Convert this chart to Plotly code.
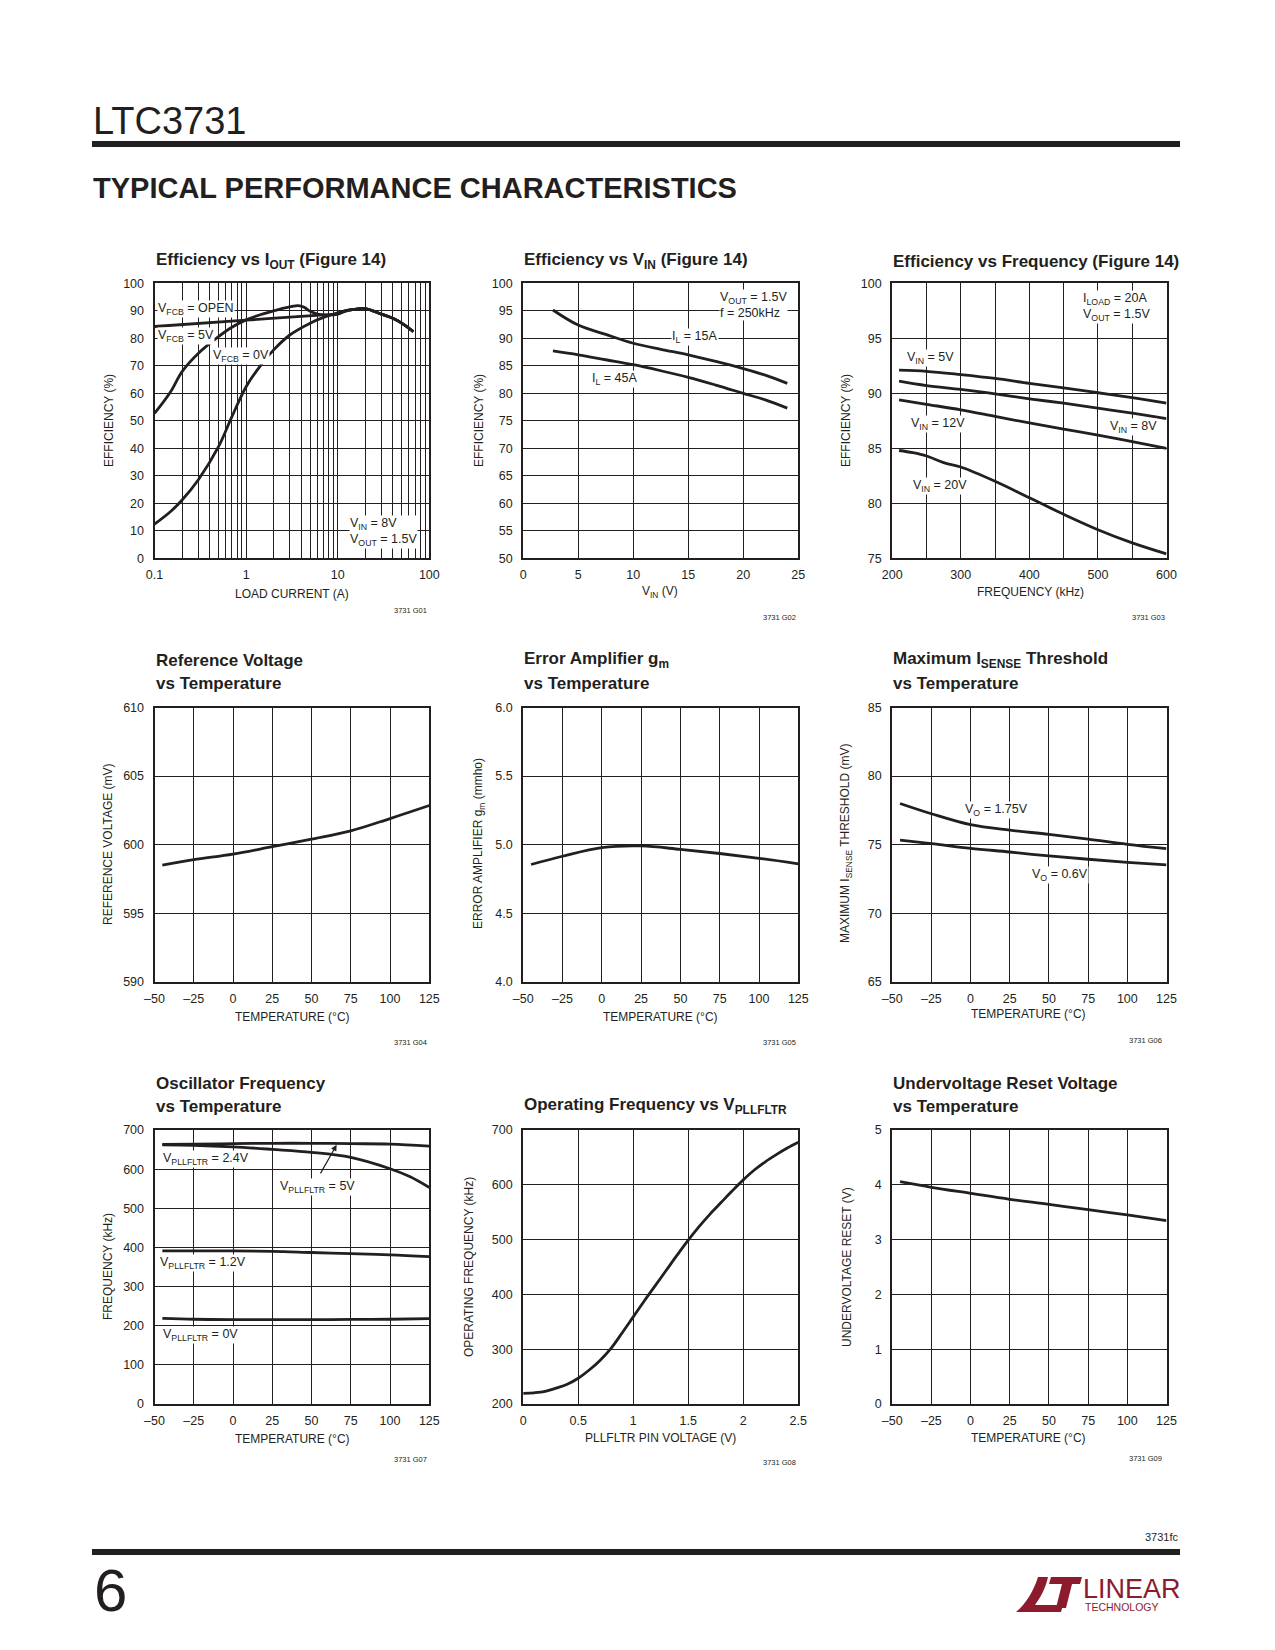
import plotly.graph_objects as go

# ---------------- DATA ----------------
# G01 Efficiency vs IOUT
g01_iout_open = [0.1, 1, 7, 10, 12, 15, 20, 30, 40, 50, 67]
g01_eff_open = [84.3, 86.6, 88.5, 88.9, 90.0, 90.5, 90.8, 88.8, 87.3, 85.5, 82.4]
g01_iout_5v = [0.1, 0.15, 0.2, 0.3, 0.5, 0.7, 1, 1.5, 2, 3, 3.7, 4.3, 5, 6, 8, 10, 12, 15, 20, 30, 40, 50, 67]
g01_eff_5v = [52.7, 60.6, 67.9, 74.5, 80.6, 84.0, 86.7, 88.8, 90.0, 91.4, 91.9, 91.3, 89.8, 88.8, 88.4, 88.8, 89.8, 90.5, 90.8, 88.8, 87.3, 85.5, 82.4]
g01_iout_0v = [0.1, 0.15, 0.2, 0.3, 0.5, 0.7, 1, 1.5, 2, 3, 5, 7, 10, 12, 15, 20, 30, 40, 50, 67]
g01_eff_0v = [12.4, 17.0, 21.2, 28.5, 40.6, 51.5, 62.4, 70.9, 75.8, 81.2, 85.5, 87.6, 89.3, 90.0, 90.5, 90.8, 88.8, 87.3, 85.5, 82.4]
g01_xticks = [0.1, 1, 10, 100]
g01_xlabels = ["0.1", "1", "10", "100"]
g01_xminor = [0.2, 0.3, 0.4, 0.5, 0.6, 0.7, 0.8, 0.9, 2, 3, 4, 5, 6, 7, 8, 9, 20, 30, 40, 50, 60, 70, 80, 90]
g01_yticks = [0, 10, 20, 30, 40, 50, 60, 70, 80, 90, 100]

# G02 Efficiency vs VIN
g02_vin = [2.7, 5, 7.5, 10, 12.5, 15, 17.5, 20, 22, 24]
g02_eff_15a = [95.15, 92.4, 90.7, 89.1, 88.0, 87.0, 85.8, 84.5, 83.3, 81.8]
g02_eff_45a = [87.7, 87.0, 86.1, 85.2, 84.1, 82.9, 81.5, 80.0, 78.8, 77.3]
g02_xticks = [0, 5, 10, 15, 20, 25]
g02_yticks = [50, 55, 60, 65, 70, 75, 80, 85, 90, 95, 100]

# G03 Efficiency vs Frequency
g03_freq = [210, 250, 300, 350, 400, 450, 500, 550, 600]
g03_eff_5v = [92.1, 92.0, 91.7, 91.35, 90.9, 90.5, 90.05, 89.6, 89.1]
g03_eff_8v = [91.1, 90.7, 90.35, 89.95, 89.5, 89.1, 88.65, 88.2, 87.7]
g03_eff_12v = [89.4, 89.0, 88.5, 87.9, 87.3, 86.75, 86.2, 85.6, 85.0]
g03_freq_20v = [210, 230, 250, 275, 300, 350, 400, 450, 500, 550, 600]
g03_eff_20v = [84.8, 84.6, 84.3, 83.7, 83.3, 82.0, 80.5, 79.0, 77.6, 76.4, 75.4]
g03_xticks = [200, 300, 400, 500, 600]
g03_xminor = [250, 350, 450, 550]
g03_yticks = [75, 80, 85, 90, 95, 100]

# shared temperature axis
temp = [-45, -25, 0, 25, 50, 75, 100, 125]
temp_ticks = [-50, -25, 0, 25, 50, 75, 100, 125]
temp_labels = ["\u201350", "\u201325", "0", "25", "50", "75", "100", "125"]

# G04 Reference voltage
g04_vref = [598.5, 598.9, 599.3, 599.85, 600.4, 601.0, 601.9, 602.85]
g04_yticks = [590, 595, 600, 605, 610]

# G05 Error amplifier gm
g05_gm = [4.855, 4.915, 4.978, 4.99, 4.965, 4.935, 4.9, 4.86]
g05_yticks = [4.0, 4.5, 5.0, 5.5, 6.0]
g05_ylabels = ["4.0", "4.5", "5.0", "5.5", "6.0"]

# G06 Max ISENSE threshold
g06_vo175 = [78.0, 77.25, 76.45, 76.05, 75.75, 75.4, 75.02, 74.7]
g06_vo06 = [75.32, 75.07, 74.73, 74.46, 74.17, 73.93, 73.71, 73.52]
g06_yticks = [65, 70, 75, 80, 85]

# G07 Oscillator frequency
g07_f_5v = [663, 664, 665, 666, 666, 665, 664, 659]
g07_temp_24 = [-45, -25, 0, 25, 50, 75, 100, 112.5, 125]
g07_f_24v = [662, 661, 657, 650.5, 643, 630, 601, 581, 553]
g07_f_12v = [391, 391, 391, 390, 387, 384, 381, 376.4]
g07_f_0v = [219, 216.5, 215.5, 215.5, 215.5, 216, 216.5, 218]
g07_yticks = [0, 100, 200, 300, 400, 500, 600, 700]

# G08 Operating frequency vs VPLLFLTR
g08_v = [0, 0.1, 0.2, 0.3, 0.4, 0.5, 0.6, 0.7, 0.8, 0.9, 1.0, 1.1, 1.2, 1.3,
         1.4, 1.5, 1.6, 1.7, 1.8, 1.9, 2.0, 2.1, 2.2, 2.3, 2.4, 2.5]
g08_f = [219.5, 220.5, 223, 229, 236, 247, 262, 280, 302, 330, 359, 388, 416, 444,
         472, 499, 524, 547, 568, 589, 609, 627, 642, 655, 667, 677.5]
g08_xticks = [0, 0.5, 1, 1.5, 2, 2.5]
g08_xlabels = ["0", "0.5", "1", "1.5", "2", "2.5"]
g08_yticks = [200, 300, 400, 500, 600, 700]

# G09 Undervoltage reset
g09_uv = [4.057, 3.954, 3.844, 3.735, 3.644, 3.545, 3.45, 3.345]
g09_yticks = [0, 1, 2, 3, 4, 5]

# ---------------- STYLE / LAYOUT ----------------
PAGE_W, PAGE_H = 1275, 1650
OFF = 8                      # default body margin of the html page
FW, FH = PAGE_W - 2 * OFF, PAGE_H - 2 * OFF
INK = "#231f20"
RED = "#8c1b2d"
FN = "Liberation Sans, Arial, Helvetica, sans-serif"
COLS = [(154.5, 429.3), (523.2, 798.3), (892.2, 1166.5)]
ROWS = [(283.3, 558.3), (707.5, 981.7), (1130.0, 1404.0)]

def X(x):
    return (x - OFF) / FW

def Y(y):
    return 1 - (y - OFF) / FH

fig = go.Figure()

def axname(i, k):
    return k if i == 1 else f"{k}{i}"

def add_line(i, xs, ys):
    fig.add_trace(go.Scatter(x=xs, y=ys, mode="lines",
                             line=dict(color=INK, width=2.8, shape="spline", smoothing=1.0),
                             xaxis=axname(i, "x"), yaxis=axname(i, "y"),
                             hoverinfo="skip", showlegend=False))

base_axis = dict(showline=True, linecolor=INK, linewidth=2, mirror=True,
                 showgrid=True, gridcolor=INK, gridwidth=1, zeroline=False,
                 ticks="", tickfont=dict(family=FN, size=12.5, color=INK),
                 fixedrange=True, tickmode="array", automargin=False)

def set_axes(i, r, c, xr, yr, xt, xl, yt, yl, xtype="linear", xminor=None):
    xa = dict(base_axis)
    xa.update(domain=[X(COLS[c][0]), X(COLS[c][1])], range=xr, type=xtype,
              tickvals=xt, ticktext=xl, anchor=axname(i, "y"), ticklabelstandoff=4)
    if xminor is not None:
        xa["minor"] = dict(tickmode="array", tickvals=xminor, showgrid=True,
                           gridcolor=INK, gridwidth=1, ticks="")
    ya = dict(base_axis)
    ya.update(domain=[Y(ROWS[r][1]), Y(ROWS[r][0])], range=yr,
              tickvals=yt, ticktext=yl, anchor=axname(i, "x"), ticklabelstandoff=6)
    fig.update_layout(**{axname(i, "xaxis"): xa, axname(i, "yaxis"): ya})

def strs(v):
    return [str(a) for a in v]

# chart 1
add_line(1, g01_iout_open, g01_eff_open)
add_line(1, g01_iout_5v, g01_eff_5v)
add_line(1, g01_iout_0v, g01_eff_0v)
set_axes(1, 0, 0, [-1, 2], [0, 100], g01_xticks, g01_xlabels, g01_yticks, strs(g01_yticks),
         xtype="log", xminor=g01_xminor)
# chart 2
add_line(2, g02_vin, g02_eff_15a)
add_line(2, g02_vin, g02_eff_45a)
set_axes(2, 0, 1, [0, 25], [50, 100], g02_xticks, strs(g02_xticks), g02_yticks, strs(g02_yticks))
# chart 3
add_line(3, g03_freq, g03_eff_5v)
add_line(3, g03_freq, g03_eff_8v)
add_line(3, g03_freq, g03_eff_12v)
add_line(3, g03_freq_20v, g03_eff_20v)
set_axes(3, 0, 2, [200, 600], [75, 100], g03_xticks, strs(g03_xticks), g03_yticks, strs(g03_yticks),
         xminor=g03_xminor)
# chart 4
add_line(4, temp, g04_vref)
set_axes(4, 1, 0, [-50, 125], [590, 610], temp_ticks, temp_labels, g04_yticks, strs(g04_yticks))
# chart 5
add_line(5, temp, g05_gm)
set_axes(5, 1, 1, [-50, 125], [4, 6], temp_ticks, temp_labels, g05_yticks, g05_ylabels)
# chart 6
add_line(6, temp, g06_vo175)
add_line(6, temp, g06_vo06)
set_axes(6, 1, 2, [-50, 125], [65, 85], temp_ticks, temp_labels, g06_yticks, strs(g06_yticks))
# chart 7
add_line(7, temp, g07_f_5v)
add_line(7, g07_temp_24, g07_f_24v)
add_line(7, temp, g07_f_12v)
add_line(7, temp, g07_f_0v)
set_axes(7, 2, 0, [-50, 125], [0, 700], temp_ticks, temp_labels, g07_yticks, strs(g07_yticks))
# chart 8
add_line(8, g08_v, g08_f)
set_axes(8, 2, 1, [0, 2.5], [200, 700], g08_xticks, g08_xlabels, g08_yticks, strs(g08_yticks))
# chart 9
add_line(9, temp, g09_uv)
set_axes(9, 2, 2, [-50, 125], [0, 5], temp_ticks, temp_labels, g09_yticks, strs(g09_yticks))

# ---------------- TEXT ----------------
anns = []

def txt(x, y, text, size=12.5, xa="center", ya="middle", bg=False, color=INK,
        family=FN, angle=0, align="left"):
    d = dict(x=X(x), y=Y(y), xref="paper", yref="paper", text=text, showarrow=False,
             xanchor=xa, yanchor=ya, align=align, textangle=angle,
             font=dict(family=family, size=size, color=color), borderpad=0)
    if bg:
        d["bgcolor"] = "white"
    anns.append(d)

# header / footer
txt(92, 121, "LTC3731", size=38, xa="left")
txt(92, 188, "<b>TYPICAL PERFORMANCE CHARACTERISTICS</b>", size=29, xa="left")
txt(1180, 1537, "3731fc", size=11, xa="right")
txt(93, 1590, "6", size=60, xa="left")
txt(1082, 1589, "LINEAR", size=27, xa="left", color=RED)
txt(1084, 1607, "TECHNOLOGY", size=10.5, xa="left", color=RED)

# chart titles
title_rows = [
    (COLS[0][0], 261, "<b>Efficiency vs I<sub>OUT</sub> (Figure 14)</b>"),
    (COLS[1][0], 261, "<b>Efficiency vs V<sub>IN</sub> (Figure 14)</b>"),
    (COLS[2][0], 261, "<b>Efficiency vs Frequency (Figure 14)</b>"),
    (COLS[0][0], 660, "<b>Reference Voltage</b>"),
    (COLS[0][0], 683, "<b>vs Temperature</b>"),
    (COLS[1][0], 660, "<b>Error Amplifier g<sub>m</sub></b>"),
    (COLS[1][0], 683, "<b>vs Temperature</b>"),
    (COLS[2][0], 660, "<b>Maximum I<sub>SENSE</sub> Threshold</b>"),
    (COLS[2][0], 683, "<b>vs Temperature</b>"),
    (COLS[0][0], 1083, "<b>Oscillator Frequency</b>"),
    (COLS[0][0], 1106, "<b>vs Temperature</b>"),
    (COLS[1][0], 1106, "<b>Operating Frequency vs V<sub>PLLFLTR</sub></b>"),
    (COLS[2][0], 1083, "<b>Undervoltage Reset Voltage</b>"),
    (COLS[2][0], 1106, "<b>vs Temperature</b>"),
]
for x, y, t in title_rows:
    txt(x, y, t, size=17, xa="left")

# x axis titles
for x, y, t in [(292, 594, "LOAD CURRENT (A)"), (660, 592, "V<sub>IN</sub> (V)"),
                (1030, 592, "FREQUENCY (kHz)"), (292, 1017, "TEMPERATURE (\u00b0C)"),
                (660, 1017, "TEMPERATURE (\u00b0C)"), (1028, 1014, "TEMPERATURE (\u00b0C)"),
                (292, 1439, "TEMPERATURE (\u00b0C)"), (660, 1438, "PLLFLTR PIN VOLTAGE (V)"),
                (1028, 1438, "TEMPERATURE (\u00b0C)")]:
    txt(x, y, t, size=12)

# y axis titles
for x, y, t in [(109, 421, "EFFICIENCY (%)"), (479, 421, "EFFICIENCY (%)"),
                (846, 421, "EFFICIENCY (%)"), (108, 844, "REFERENCE VOLTAGE (mV)"),
                (479, 844, "ERROR AMPLIFIER g<sub>m</sub> (mmho)"),
                (846, 843, "MAXIMUM I<sub>SENSE</sub> THRESHOLD (mV)"),
                (108, 1267, "FREQUENCY (kHz)"), (469, 1267, "OPERATING FREQUENCY (kHz)"),
                (847, 1267, "UNDERVOLTAGE RESET (V)")]:
    txt(x, y, t, size=12, angle=-90)

# figure codes
for x, y, t in [(428, 610, "3731 G01"), (797, 617, "3731 G02"), (1166, 617, "3731 G03"),
                (428, 1042, "3731 G04"), (797, 1042, "3731 G05"), (1163, 1040, "3731 G06"),
                (428, 1459, "3731 G07"), (797, 1462, "3731 G08"), (1163, 1458, "3731 G09")]:
    txt(x, y, t, size=7.5, xa="right")

# in-plot labels
txt(157, 309, "V<sub>FCB</sub> = OPEN", xa="left", bg=True)
txt(157, 336, "V<sub>FCB</sub> = 5V", xa="left", bg=True)
txt(212, 356, "V<sub>FCB</sub> = 0V", xa="left", bg=True)
txt(349, 532, "V<sub>IN</sub> = 8V<br>V<sub>OUT</sub> = 1.5V", xa="left", bg=True)

txt(719, 305, "V<sub>OUT</sub> = 1.5V<br>f = 250kHz", xa="left", bg=True)
txt(695, 337, "I<sub>L</sub> = 15A", bg=True)
txt(615, 379, "I<sub>L</sub> = 45A", bg=True)

txt(1082, 307, "I<sub>LOAD</sub> = 20A<br>V<sub>OUT</sub> = 1.5V", xa="left", bg=True)
txt(930, 358, "V<sub>IN</sub> = 5V", bg=True)
txt(938, 424, "V<sub>IN</sub> = 12V", bg=True)
txt(1133, 427, "V<sub>IN</sub> = 8V", bg=True)
txt(940, 486, "V<sub>IN</sub> = 20V", bg=True)

txt(996, 810, "V<sub>O</sub> = 1.75V", bg=True)
txt(1060, 875, "V<sub>O</sub> = 0.6V", bg=True)

txt(162, 1159, "V<sub>PLLFLTR</sub> = 2.4V", xa="left", bg=True)
txt(279, 1187, "V<sub>PLLFLTR</sub> = 5V", xa="left", bg=True)
txt(159, 1263, "V<sub>PLLFLTR</sub> = 1.2V", xa="left", bg=True)
txt(162, 1335, "V<sub>PLLFLTR</sub> = 0V", xa="left", bg=True)

# arrow for 5V label
anns.append(dict(x=66, y=662, xref="x7", yref="y7", text="", showarrow=True,
                 ax=-17, ay=30, arrowhead=2, arrowsize=1, arrowwidth=1.2,
                 arrowcolor=INK, standoff=0))

# ---------------- SHAPES ----------------
shapes = [
    dict(type="rect", xref="paper", yref="paper", x0=X(92), x1=X(1180), y0=Y(147), y1=Y(141),
         fillcolor=INK, line=dict(width=0)),
    dict(type="rect", xref="paper", yref="paper", x0=X(92), x1=X(1180), y0=Y(1555), y1=Y(1549),
         fillcolor=INK, line=dict(width=0)),
]

def pth(cmds):
    out = []
    for c in cmds:
        if c == "Z":
            out.append("Z")
            continue
        op, pts = c[0], c[1:]
        coords = " ".join(f"{X(pts[k]):.5f},{Y(pts[k + 1]):.5f}" for k in range(0, len(pts), 2))
        out.append(f"{op} {coords}")
    return " ".join(out)

logo_L = pth([("M", 1016, 1612), ("C", 1026, 1604, 1034, 1590, 1038, 1577), ("L", 1048, 1577),
              ("C", 1045, 1590, 1040, 1598, 1035, 1605), ("L", 1063, 1605), ("L", 1061, 1612), "Z"])
logo_T = pth([("M", 1051, 1577), ("L", 1082, 1577), ("L", 1080, 1584), ("L", 1072, 1584),
              ("L", 1066, 1608), ("L", 1056, 1608), ("L", 1062, 1584), ("L", 1049, 1584), "Z"])
for p in (logo_L, logo_T):
    shapes.append(dict(type="path", xref="paper", yref="paper", path=p,
                       fillcolor=RED, line=dict(width=0)))

fig.update_layout(width=FW, height=FH, margin=dict(l=0, r=0, t=0, b=0),
                  paper_bgcolor="white", plot_bgcolor="white", showlegend=False,
                  annotations=anns, shapes=shapes)

fig.write_html("out.html")
